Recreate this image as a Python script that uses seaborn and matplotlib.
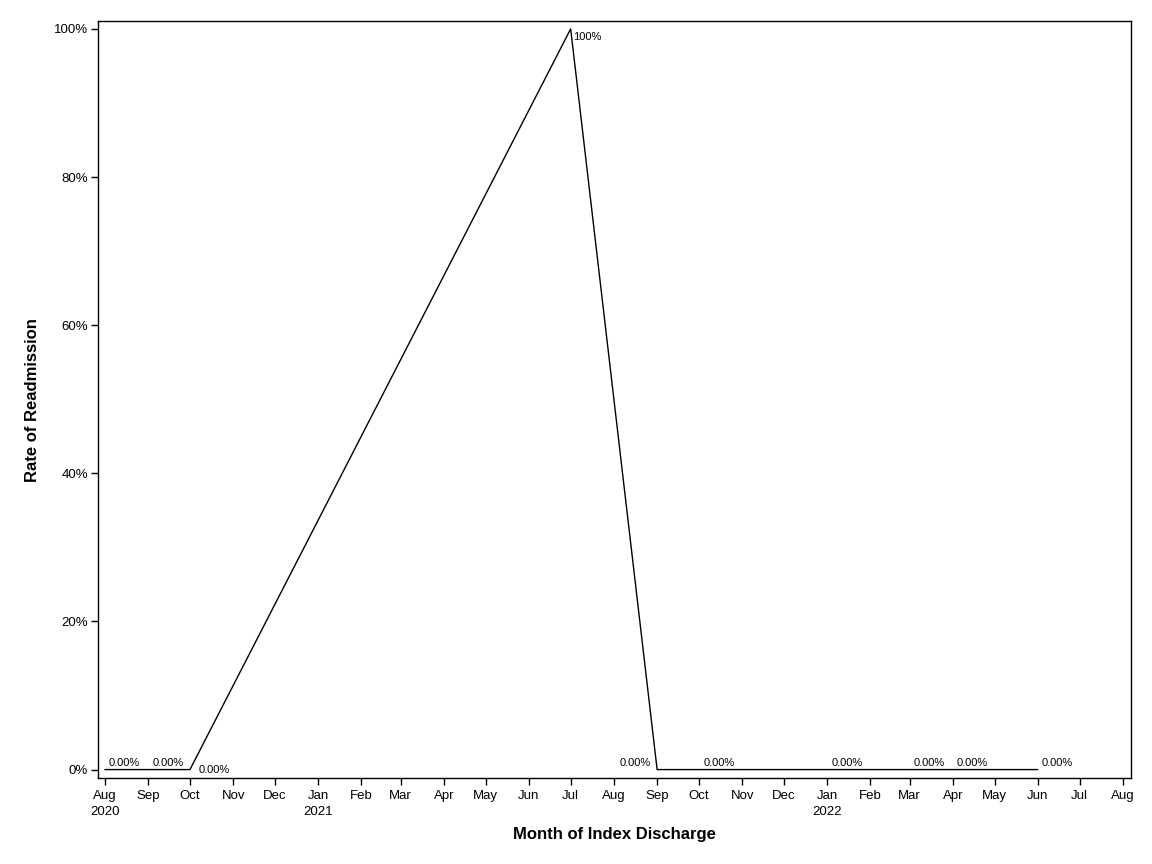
import pandas as pd
import seaborn as sns
import matplotlib.pyplot as plt
import matplotlib.ticker as ticker

months = ['2020-08-01', '2020-09-01', '2020-10-01', '2021-07-01', '2021-09-01',
          '2021-10-01', '2022-01-01', '2022-03-01', '2022-04-01', '2022-06-01']
rates = [0.0, 0.0, 0.0, 1.0, 0.0, 0.0, 0.0, 0.0, 0.0, 0.0]
point_labels = ['0.00%', '0.00%', '0.00%', '100%', '0.00%',
                '0.00%', '0.00%', '0.00%', '0.00%', '0.00%']
# where each label sits relative to its point (points)
label_offsets = [(3, 1), (3, 1), (6, 3), (2, -2), (-27, 1),
                 (3, 1), (3, 1), (3, 1), (3, 1), (3, 1)]
label_va = ['bottom', 'bottom', 'top', 'top', 'bottom',
            'bottom', 'bottom', 'bottom', 'bottom', 'bottom']

df = pd.DataFrame({'month': pd.to_datetime(months), 'rate': rates})

sns.set_style('white')
plt.rcParams['font.family'] = ['Liberation Sans', 'DejaVu Sans']
plt.rcParams['text.color'] = 'black'
plt.rcParams['axes.labelcolor'] = 'black'
plt.rcParams['xtick.color'] = 'black'
plt.rcParams['ytick.color'] = 'black'

fig, ax = plt.subplots(figsize=(11.52, 8.64), dpi=100)
fig.subplots_adjust(left=0.085, right=0.982, top=0.976, bottom=0.099)

sns.lineplot(data=df, x='month', y='rate', color='black', linewidth=1, ax=ax)

for m, r, lab, off, va in zip(df['month'], rates, point_labels, label_offsets, label_va):
    ax.annotate(lab, (m, r), xytext=off, textcoords='offset points',
                fontsize=8, ha='left', va=va, color='black')

tick_dates = pd.date_range('2020-08-01', '2022-08-01', freq='MS')
tick_labels = []
for d in tick_dates:
    lab = d.strftime('%b')
    if (d.year == 2020 and d.month == 8) or d.month == 1:
        lab += '\n' + str(d.year)
    tick_labels.append(lab)
ax.set_xticks(tick_dates)
ax.set_xticklabels(tick_labels, fontsize=9.5, linespacing=1.45)
ax.set_xlim(pd.Timestamp('2020-07-27'), pd.Timestamp('2022-08-07'))

ax.set_ylim(-0.012, 1.011)
ax.set_yticks([0, 0.2, 0.4, 0.6, 0.8, 1.0])
ax.yaxis.set_major_formatter(ticker.FuncFormatter(lambda v, _: '{:.0%}'.format(v)))
ax.tick_params(axis='both', direction='out', length=5, width=1, labelsize=9.5,
               pad=2, bottom=True, left=True, color='black')
ax.tick_params(axis='x', pad=3)

for s in ax.spines.values():
    s.set_color('black')
    s.set_linewidth(1)

ax.set_xlabel('Month of Index Discharge', fontsize=12, fontweight='bold', labelpad=7)
ax.set_ylabel('Rate of Readmission', fontsize=12, fontweight='bold', labelpad=10)

plt.savefig('out.png', dpi=100)
